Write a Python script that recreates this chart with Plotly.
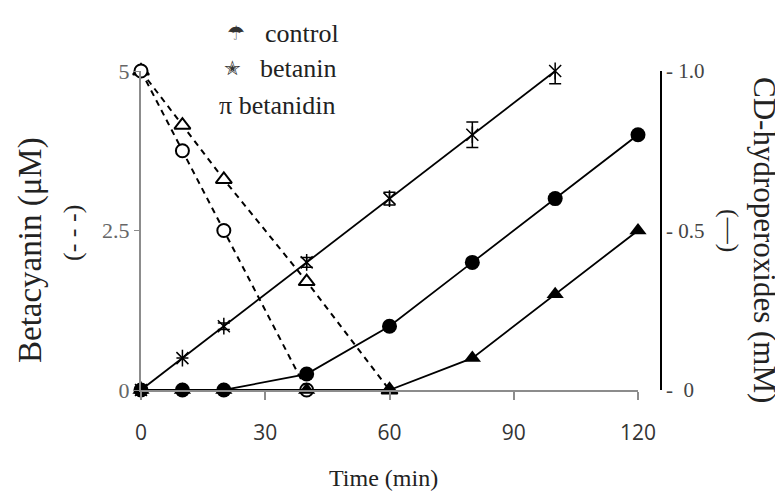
import plotly.graph_objects as go

# ---- data ----
time_betanin_cd = [0, 10, 20, 40, 60, 80, 100]
betanin_cd = [0, 0.1, 0.2, 0.4, 0.6, 0.8, 1.0]
betanin_cd_err = [0, 0, 0.01, 0.015, 0.02, 0.04, 0.04]

time_full = [0, 10, 20, 40, 60, 80, 100, 120]
circle_cd = [0, 0, 0, 0.05, 0.2, 0.4, 0.6, 0.8]
triangle_cd = [0, 0, 0, 0, 0, 0.1, 0.3, 0.5]

time_circle_bc = [0, 10, 20, 40]
circle_bc = [5, 3.75, 2.5, 0]
time_triangle_bc = [0, 10, 20, 40, 60]
triangle_bc = [5, 4.15, 3.3, 1.7, 0]

x_ticks = [0, 30, 60, 90, 120]
left_ticks = [0, 2.5, 5]
left_ticktext = ["0", "2.5", "5"]
right_ticks = [0, 0.5, 1.0]
right_ticktext = ["-  0", "- 0.5", "- 1.0"]

legend_symbols = ["\u2602", "\u272D", "\u03C0"]
legend_labels = ["control", "betanin", "betanidin"]

SERIF = "Liberation Serif, Times New Roman, serif"

fig = go.Figure()

# solid lines (CD-hydroperoxides, right axis)
fig.add_trace(go.Scatter(x=time_full, y=triangle_cd, yaxis="y2", mode="lines+markers",
                         line=dict(color="black", width=1.8),
                         marker=dict(symbol="triangle-up", size=15, color="black"),
                         cliponaxis=False, showlegend=False))
fig.add_trace(go.Scatter(x=time_full, y=circle_cd, yaxis="y2", mode="lines+markers",
                         line=dict(color="black", width=1.8),
                         marker=dict(symbol="circle", size=15, color="black"),
                         cliponaxis=False, showlegend=False))
fig.add_trace(go.Scatter(x=time_betanin_cd, y=betanin_cd, yaxis="y2", mode="lines+markers",
                         line=dict(color="black", width=1.8),
                         marker=dict(symbol="x-thin-open", size=12, color="black",
                                     line=dict(color="black", width=1.5)),
                         error_y=dict(type="data", array=betanin_cd_err, color="black",
                                      thickness=1.5, width=6),
                         cliponaxis=False, showlegend=False))
fig.add_trace(go.Scatter(x=time_betanin_cd, y=betanin_cd, yaxis="y2", mode="markers",
                         marker=dict(symbol="line-ns-open", size=12, color="black",
                                     line=dict(color="black", width=1.5)),
                         cliponaxis=False, showlegend=False))

# dashed lines (betacyanin, left axis)
fig.add_trace(go.Scatter(x=time_triangle_bc, y=triangle_bc, mode="lines+markers",
                         line=dict(color="black", width=2, dash="6px,5px"),
                         marker=dict(symbol="triangle-up", size=14, color="white",
                                     line=dict(color="black", width=2)),
                         cliponaxis=False, showlegend=False))
fig.add_trace(go.Scatter(x=time_circle_bc, y=circle_bc, mode="lines+markers",
                         line=dict(color="black", width=2, dash="6px,5px"),
                         marker=dict(symbol="circle", size=13, color="white",
                                     line=dict(color="black", width=2)),
                         cliponaxis=False, showlegend=False))

W, H = 783, 491
L, R_axis, T, B = 133, 653, 63, 382
x_end = 630
dom_end = (x_end - L) / (R_axis - L)

fig.update_layout(
    width=W, height=H,
    margin=dict(l=L, r=W - R_axis, t=T, b=H - B),
    plot_bgcolor="white", paper_bgcolor="white",
    showlegend=False,
    xaxis=dict(domain=[0, dom_end], range=[0, 120], showgrid=False, zeroline=False,
               showline=True, linecolor="#8c8c8c", linewidth=2,
               ticks="outside", ticklen=8, tickwidth=1.5, tickcolor="#8c8c8c",
               tickvals=x_ticks, ticktext=[str(v) for v in x_ticks],
               ticklabelstandoff=15,
               tickfont=dict(family="Open Sans, Liberation Sans, sans-serif", size=21, color="#333")),
    yaxis=dict(range=[0, 5], showgrid=False, zeroline=False,
               showline=True, linecolor="#8c8c8c", linewidth=2,
               ticks="outside", ticklen=5, tickcolor="#8c8c8c",
               tickvals=left_ticks, ticktext=left_ticktext,
               tickfont=dict(family=SERIF, size=22, color="#666")),
    yaxis2=dict(range=[0, 1.0], overlaying="y", side="right", anchor="free", position=1.0,
                showgrid=False, zeroline=False,
                showline=True, linecolor="black", linewidth=1.5,
                ticks="", tickvals=right_ticks, ticktext=right_ticktext,
                tickfont=dict(family=SERIF, size=21, color="#444")),
)

ann = []
# legend
leg_y = [25, 60, 97]
sym_x = [228, 224, 217]
txt_x = [255, 250, 227]
for s, lab, yy, sx, tx in zip(legend_symbols, legend_labels, leg_y, sym_x, txt_x):
    if s == "\u03C0":
        ann.append(dict(x=sx - 8, y=H - yy, xref="paper", yref="paper", text=s + " " + lab,
                        showarrow=False, xanchor="left", yanchor="middle",
                        font=dict(family=SERIF, size=26, color="#222")))
    else:
        ann.append(dict(x=sx, y=H - yy, xref="paper", yref="paper", text=s,
                        showarrow=False, xanchor="center", yanchor="middle",
                        font=dict(family="DejaVu Sans", size=20, color="#333")))
        ann.append(dict(x=tx, y=H - yy, xref="paper", yref="paper", text=lab,
                        showarrow=False, xanchor="left", yanchor="middle",
                        font=dict(family=SERIF, size=26, color="#222")))

# axis titles
ann.append(dict(x=375, y=H - 470, xref="paper", yref="paper", text="Time (min)",
                showarrow=False, xanchor="center", yanchor="middle",
                font=dict(family=SERIF, size=24, color="#222")))
ann.append(dict(x=23, y=H - 242, xref="paper", yref="paper", text="Betacyanin (\u03bcM)",
                showarrow=False, xanchor="center", yanchor="middle", textangle=-90,
                font=dict(family=SERIF, size=33, color="#222")))
ann.append(dict(x=64, y=H - 225, xref="paper", yref="paper", text="(- - -)",
                showarrow=False, xanchor="center", yanchor="middle", textangle=-90,
                font=dict(family=SERIF, size=26, color="#222")))
ann.append(dict(x=757, y=H - 232, xref="paper", yref="paper", text="CD-hydroperoxides (mM)",
                showarrow=False, xanchor="center", yanchor="middle", textangle=90,
                font=dict(family=SERIF, size=31, color="#222")))
ann.append(dict(x=722, y=H - 222, xref="paper", yref="paper", text="(\u2014)",
                showarrow=False, xanchor="center", yanchor="middle", textangle=90,
                font=dict(family=SERIF, size=26, color="#222")))

# convert pixel coords to paper coords
for a in ann:
    a["x"] = (a["x"] - L) / (R_axis - L)
    a["y"] = (a["y"] - (H - B)) / (B - T)
fig.update_layout(annotations=ann)

fig.write_html("out.html")
